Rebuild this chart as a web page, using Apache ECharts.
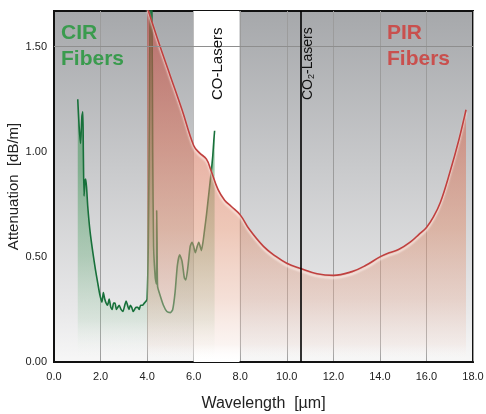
<!DOCTYPE html>
<html><head><meta charset="utf-8">
<script src="https://cdn.jsdelivr.net/npm/echarts@6/dist/echarts.min.js"></script>
<style>html,body{margin:0;padding:0;background:#fff}#c{width:486px;height:414px}</style>
</head><body><div id="c"></div>
<script>
// ---- data ----
const xTicks = [0, 2, 4, 6, 8, 10, 12, 14, 16, 18];
const yTicks = [0, 0.5, 1.0, 1.5];
const xAxisTitle = 'Wavelength  [µm]';
const yAxisTitle = 'Attenuation  [dB/m]';

const cirWavelength = [1.02,1.08,1.14,1.20,1.24,1.26,1.29,1.33,1.36,1.40,1.45,1.55,1.67,1.78,1.88,1.97,2.06,2.12,2.18,2.24,2.30,2.37,2.44,2.50,2.56,2.62,2.68,2.74,2.80,2.88,2.96,3.04,3.10,3.16,3.22,3.28,3.34,3.40,3.46,3.52,3.60,3.66,3.72,3.80,3.88,3.96,4.00,4.05,4.10,4.14,4.20,4.24,4.28,4.35,4.40,4.41,4.43,4.45,4.55,4.70,4.85,5.00,5.10,5.20,5.30,5.40,5.50,5.60,5.66,5.75,5.85,5.93,6.00,6.07,6.15,6.22,6.28,6.33,6.40,6.47,6.55,6.62,6.70,6.76,6.82,6.87,6.90];
const cirAttenuation = [1.25,1.12,1.04,1.17,1.19,1.00,0.79,0.86,0.87,0.83,0.74,0.62,0.52,0.44,0.375,0.32,0.285,0.33,0.30,0.28,0.27,0.30,0.26,0.25,0.28,0.28,0.25,0.26,0.27,0.25,0.24,0.27,0.29,0.27,0.25,0.27,0.26,0.24,0.25,0.26,0.26,0.25,0.27,0.27,0.28,0.29,0.30,0.55,1.20,1.75,1.75,1.00,0.55,0.40,0.37,0.72,0.56,0.36,0.32,0.27,0.24,0.235,0.25,0.33,0.46,0.51,0.48,0.40,0.39,0.45,0.55,0.57,0.55,0.52,0.55,0.57,0.55,0.53,0.57,0.63,0.70,0.77,0.85,0.91,0.98,1.06,1.10];

const pirWavelength = [4.0,4.5,5.0,5.5,6.0,6.25,6.55,6.75,7.05,7.33,7.62,8.0,8.4,9.0,9.5,10.0,10.6,11.3,12.0,12.8,13.4,14.0,14.4,14.8,15.3,15.7,16.0,16.3,16.6,17.0,17.4,17.7];
const pirAttenuation = [1.69,1.52,1.36,1.20,1.03,0.995,0.965,0.91,0.82,0.77,0.74,0.70,0.63,0.55,0.505,0.47,0.445,0.42,0.412,0.43,0.46,0.50,0.52,0.535,0.57,0.61,0.64,0.69,0.76,0.90,1.06,1.20];

const coLaserBand = [6.0, 7.97];
const co2LaserLine = 10.6;
const horizontalGrid = 1.5;

// ---- chart ----
const FONT = '"Liberation Sans", Arial, Helvetica, sans-serif';
const pair = (xs, ys) => xs.map((x, i) => [x, ys[i]]);
const grad = (stops) => ({type: 'linear', x: 0, y: 11, x2: 0, y2: 362, global: true,
  colorStops: stops.map(s => ({offset: s[0], color: s[1]}))});

const chart = echarts.init(document.getElementById('c'), null, {renderer: 'canvas'});
chart.setOption({
  animation: false,
  backgroundColor: '#ffffff',
  grid: {left: 54, right: 13, top: 11, bottom: 52, show: true,
    borderColor: '#111', borderWidth: 2,
    backgroundColor: grad([[0, '#a6a8ab'], [0.45, '#c9cacc'], [0.85, '#e8e8e9'], [1, '#f7f7f7']]),
    outerBoundsMode: 'none'},
  xAxis: {type: 'value', min: xTicks[0], max: xTicks[xTicks.length - 1], interval: 2,
    name: xAxisTitle, nameLocation: 'middle', nameGap: 34, nameMoveOverlap: false,
    nameTextStyle: {fontFamily: FONT, fontSize: 16, color: '#222'},
    axisLine: {show: true, lineStyle: {color: '#111', width: 2}},
    axisTick: {show: false},
    axisLabel: {fontFamily: FONT, fontSize: 11, color: '#222', margin: 9,
      formatter: v => xTicks.includes(v) ? v.toFixed(1) : ''},
    splitLine: {show: true, lineStyle: {color: '#9c9c9c', width: 1}}},
  yAxis: {type: 'value', min: 0, max: 1.67, interval: 0.5,
    name: yAxisTitle, nameLocation: 'middle', nameGap: 33, nameMoveOverlap: false,
    nameTextStyle: {fontFamily: FONT, fontSize: 15, color: '#222'},
    axisLine: {show: true, lineStyle: {color: '#111', width: 2}},
    axisTick: {show: false},
    axisLabel: {fontFamily: FONT, fontSize: 11, color: '#222', margin: 7, showMaxLabel: false,
      formatter: v => yTicks.includes(v) ? v.toFixed(2) : ''},
    splitLine: {show: false}},
  series: [
    {type: 'line', data: [], z: 1, silent: true,
      markLine: {silent: true, symbol: 'none', label: {show: false},
        lineStyle: {color: '#8e8e8e', width: 1, type: 'solid'},
        data: [{yAxis: horizontalGrid}]}},
    {type: 'line', data: [], z: 2, silent: true,
      markArea: {silent: true, itemStyle: {color: '#ffffff', opacity: 1},
        data: [[{xAxis: coLaserBand[0]}, {xAxis: coLaserBand[1]}]]}},
    {type: 'line', name: 'CIR', data: pair(cirWavelength, cirAttenuation), z: 3,
      symbol: 'none', smooth: 0.2, clip: true,
      lineStyle: {color: '#17703a', width: 1.6},
      areaStyle: {color: grad([[0, 'rgba(40,125,65,0.75)'], [0.45, 'rgba(60,150,85,0.72)'],
        [0.7, 'rgba(95,170,115,0.52)'], [0.88, 'rgba(160,205,170,0.35)'], [1, 'rgba(255,255,255,0)']])}},
    {type: 'line', name: 'PIR', data: pair(pirWavelength, pirAttenuation), z: 4,
      symbol: 'none', smooth: 0.4, clip: true,
      lineStyle: {color: '#c0403f', width: 1.6, shadowColor: 'rgba(255,240,235,0.9)', shadowBlur: 2, shadowOffsetY: 2.5},
      areaStyle: {color: grad([[0, 'rgba(192,72,66,0.88)'], [0.38, 'rgba(214,118,95,0.82)'],
        [0.62, 'rgba(222,148,118,0.75)'], [0.82, 'rgba(230,180,160,0.6)'], [0.95, 'rgba(242,220,212,0.45)'], [1, 'rgba(255,255,255,0)']])}},
    {type: 'line', data: [], z: 6, silent: true,
      markLine: {silent: true, symbol: 'none', label: {show: false},
        lineStyle: {color: '#000', width: 1.6, type: 'solid'},
        data: [{xAxis: co2LaserLine}]}}
  ],
  graphic: [
    {type: 'text', x: 61, y: 20, z: 10, style: {text: 'CIR\nFibers', fill: '#3a9b4e',
      fontFamily: FONT, fontSize: 21, fontWeight: 'bold', lineHeight: 26, align: 'left', verticalAlign: 'top'}},
    {type: 'text', x: 387, y: 20, z: 10, style: {text: 'PIR\nFibers', fill: '#c9504e',
      fontFamily: FONT, fontSize: 21, fontWeight: 'bold', lineHeight: 26, align: 'left', verticalAlign: 'top'}},
    {type: 'text', x: 217.5, y: 100, rotation: Math.PI / 2, z: 10, style: {text: 'CO-Lasers', fill: '#111',
      fontFamily: FONT, fontSize: 15, align: 'left', verticalAlign: 'middle'}},
    {type: 'text', x: 308.5, y: 100, rotation: Math.PI / 2, z: 10, style: {text: 'CO{s|2}-Lasers', fill: '#111',
      fontFamily: FONT, fontSize: 14, lineHeight: 16, align: 'left', verticalAlign: 'middle',
      rich: {s: {fontFamily: FONT, fontSize: 9, fill: '#111', verticalAlign: 'bottom', lineHeight: 9, padding: [6, 0, 0, 0]}}}}
  ]
});
</script>
</body></html>
